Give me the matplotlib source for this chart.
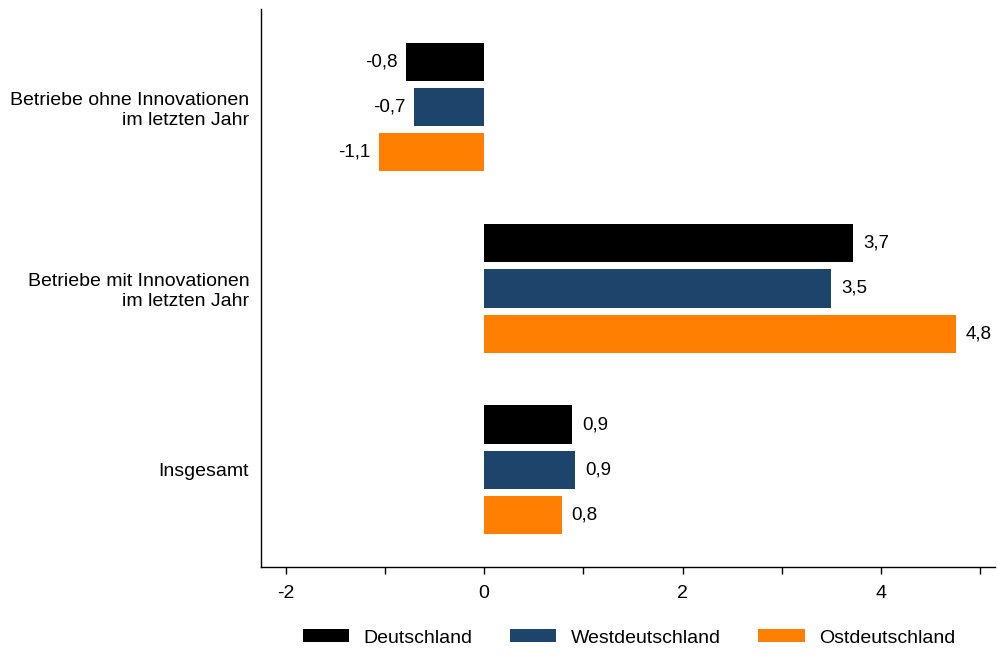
import matplotlib
matplotlib.use("Agg")
import matplotlib.pyplot as plt
import numpy as np

plt.rcParams['font.family'] = ['Liberation Sans', 'DejaVu Sans']

categories = ["Betriebe ohne Innovationen\nim letzten Jahr",
              "Betriebe mit Innovationen\nim letzten Jahr",
              "Insgesamt"]
series_names = ["Deutschland", "Westdeutschland", "Ostdeutschland"]
deutschland = [-0.79, 3.72, 0.89]
west = [-0.71, 3.50, 0.92]
ost = [-1.06, 4.76, 0.78]
colors = ["#000000", "#1d456b", "#ff8000"]

fig = plt.figure(figsize=(9.97, 6.54), dpi=100)
ax = fig.add_axes([261/997, 1-567/654, (995-261)/997, (567-9)/654])

y = np.arange(len(categories))
offsets = [-0.25, 0.0, 0.25]
h = 0.21
for vals, off, col, name in zip([deutschland, west, ost], offsets, colors, series_names):
    bars = ax.barh(y + off, vals, height=h, color=col, label=name)
    for b, v in zip(bars, vals):
        txt = f"{v:.1f}".replace(".", ",")
        if v >= 0:
            ax.annotate(txt, (v, b.get_y() + h/2), xytext=(7, 0), textcoords="offset points",
                        ha="left", va="center", fontsize=13.5)
        else:
            ax.annotate(txt, (v, b.get_y() + h/2), xytext=(-6, 0), textcoords="offset points",
                        ha="right", va="center", fontsize=13.5)

ax.set_ylim(2.535, -0.54)
ax.set_xlim(-2.25, 5.15)
ax.set_yticks(y)
ax.set_yticklabels(categories, fontsize=14, multialignment='right')
ax.tick_params(axis='y', length=0, pad=8.5)
ax.set_xticks([-2, 0, 2, 4])
ax.set_xticklabels(["-2", "0", "2", "4"], fontsize=14)
ax.set_xticks([-1, 1, 3, 5], minor=True)
ax.tick_params(axis='x', which='both', length=5, width=1, direction='out', pad=8)
for s in ['top', 'right']:
    ax.spines[s].set_visible(False)
ax.spines['left'].set_linewidth(1)
ax.spines['bottom'].set_linewidth(1)

handles, labels = ax.get_legend_handles_labels()
fig.legend(handles, labels, loc='center', bbox_to_anchor=(629/997, 1-638/654), ncol=3, frameon=False,
           fontsize=14, handlelength=2.4, handleheight=0.62, columnspacing=1.9, handletextpad=0.75)

fig.savefig("out.png", dpi=100)
